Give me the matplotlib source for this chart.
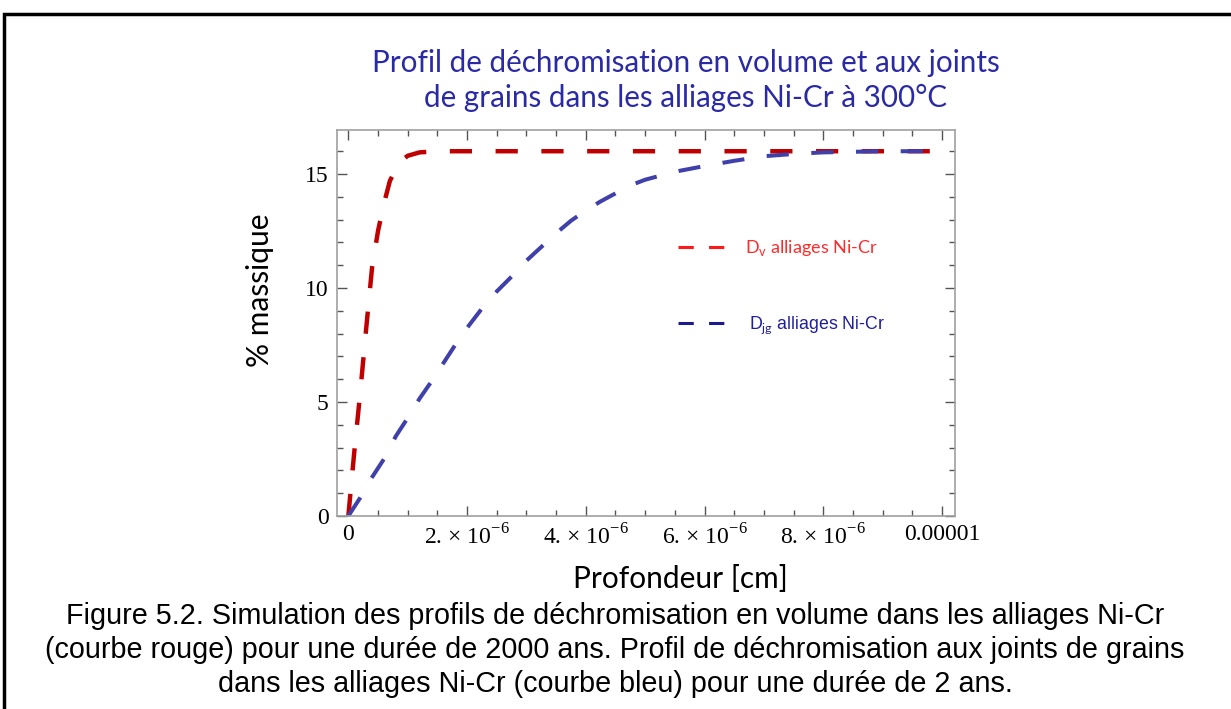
import matplotlib
matplotlib.use('Agg')
import matplotlib.pyplot as plt
from matplotlib.lines import Line2D
from matplotlib.patches import Rectangle
from matplotlib.ticker import FixedLocator, MultipleLocator

plt.rcParams['mathtext.fontset'] = 'custom'
plt.rcParams['mathtext.rm'] = 'Liberation Serif'
plt.rcParams['mathtext.sf'] = 'Lato'

# depth (cm) and chromium content (% massique)
depth_vol = [0, 0.1e-6, 0.2e-6, 0.3e-6, 0.4e-6, 0.5e-6, 0.6e-6, 0.7e-6, 0.8e-6,
             0.9e-6, 1.0e-6, 1.2e-6, 1.5e-6, 2e-6, 4e-6, 6e-6, 8e-6, 1e-5]
cr_vol = [0, 2.8, 5.4, 8.2, 10.9, 12.5, 13.7, 14.7, 15.2,
          15.6, 15.8, 15.95, 16, 16, 16, 16, 16, 16]

depth_jg = [0, 0.2e-6, 0.4e-6, 0.6e-6, 0.8e-6, 1.0e-6, 1.2e-6, 1.4e-6, 1.6e-6,
            1.8e-6, 2.0e-6, 2.25e-6, 2.5e-6, 2.75e-6, 3.0e-6, 3.25e-6, 3.5e-6,
            3.75e-6, 4.0e-6, 4.25e-6, 4.5e-6, 4.75e-6, 5.0e-6, 5.5e-6, 6.0e-6,
            6.5e-6, 7.0e-6, 7.5e-6, 8.0e-6, 9.0e-6, 1e-5]
cr_jg = [0, 0.8, 1.7, 2.5, 3.5, 4.3, 5.15, 5.9, 6.7,
         7.5, 8.25, 9.1, 9.85, 10.5, 11.2, 11.8, 12.4,
         12.95, 13.4, 13.8, 14.15, 14.5, 14.75, 15.1, 15.35,
         15.58, 15.78, 15.88, 15.95, 16, 16]

xticks = [0, 2e-6, 4e-6, 6e-6, 8e-6, 1e-5]
xtick_labels = ['0', r'2. $\times$ 10$^{-6}$', r'4. $\times$ 10$^{-6}$',
                r'6. $\times$ 10$^{-6}$', r'8. $\times$ 10$^{-6}$', '0.00001']
yticks = [0, 5, 10, 15]

RED = '#c00000'
BLUE = '#4040aa'
TITLE_BLUE = '#2a2aa6'

fig = plt.figure(figsize=(12.31, 7.09), dpi=100)
ax = fig.add_axes([0.2738, 0.2722, 0.502, 0.5444])

ax.plot(depth_vol, cr_vol, color=RED, lw=3.2, dashes=(5, 5.3))
ax.plot(depth_jg, cr_jg, color=BLUE, lw=2.9, dashes=(5.5, 5.6))

ax.set_xlim(-0.19e-6, 1.022e-5)
ax.set_ylim(0, 16.93)
ax.xaxis.set_major_locator(FixedLocator(xticks))
ax.set_xticklabels(xtick_labels)
ax.xaxis.set_minor_locator(MultipleLocator(0.5e-6))
ax.yaxis.set_major_locator(FixedLocator(yticks))
ax.yaxis.set_minor_locator(MultipleLocator(1))
ax.tick_params(which='both', direction='in', top=True, right=True,
               color='#555555', labelsize=17, pad=6)
ax.tick_params(which='major', length=7, width=1)
ax.tick_params(which='minor', length=4, width=1)
for lab in ax.get_xticklabels() + ax.get_yticklabels():
    lab.set_fontfamily('Liberation Serif')
for sp in ax.spines.values():
    sp.set_color('#a0a0a0')
    sp.set_linewidth(1.2)

ax.set_xlabel('Profondeur [cm]', fontsize=21.5, family='Lato')
ax.set_ylabel('% massique', fontsize=21.5, family='Lato')
ax.xaxis.set_label_coords(0.555, -0.128)
ax.yaxis.set_label_coords(-0.102, 0.585)

# legend entries, placed separately like in the original
h_v = Line2D([], [], color='#ff1a1a', lw=2.2, dashes=(5, 5))
leg1 = ax.legend([h_v], [r'D$_{\mathsf{v}}$ alliages Ni-Cr'], loc='center left',
                 bbox_to_anchor=(0.552, 0.694), frameon=False,
                 handlelength=2.7, handletextpad=1.0, borderpad=0, borderaxespad=0,
                 labelcolor='#ff2a2a', prop={'family': 'Lato', 'size': 13})
ax.add_artist(leg1)
h_jg = Line2D([], [], color='#1a1a8c', lw=2.2, dashes=(5, 5))
ax.legend([h_jg], [r'D$_{\mathsf{jg}}$ alliages Ni-Cr'], loc='center left',
          bbox_to_anchor=(0.552, 0.495), frameon=False,
          handlelength=2.7, handletextpad=1.3, borderpad=0, borderaxespad=0,
          labelcolor='#1f1f9a', prop={'family': 'Liberation Sans', 'size': 12.8})

fig.text(686 / 1231, 1 - 80.5 / 709,
         'Profil de déchromisation en volume et aux joints\n'
         'de grains dans les alliages Ni-Cr à 300°C',
         ha='center', va='center', color=TITLE_BLUE, fontsize=21.3, family='Lato',
         linespacing=1.33)

fig.text(615 / 1231, 1 - 650 / 709,
         'Figure 5.2. Simulation des profils de déchromisation en volume dans les alliages Ni-Cr\n'
         '(courbe rouge) pour une durée de 2000 ans. Profil de déchromisation aux joints de grains\n'
         'dans les alliages Ni-Cr (courbe bleu) pour une durée de 2 ans.',
         ha='center', va='center', fontsize=20.7, family='Liberation Sans',
         linespacing=1.28)

fig.add_artist(Rectangle((4 / 1231, -0.1), 1.2, 1 - 14 / 709 + 0.1,
                         transform=fig.transFigure, fill=False, ec='black', lw=2.5))

fig.savefig('out.png', dpi=100)
